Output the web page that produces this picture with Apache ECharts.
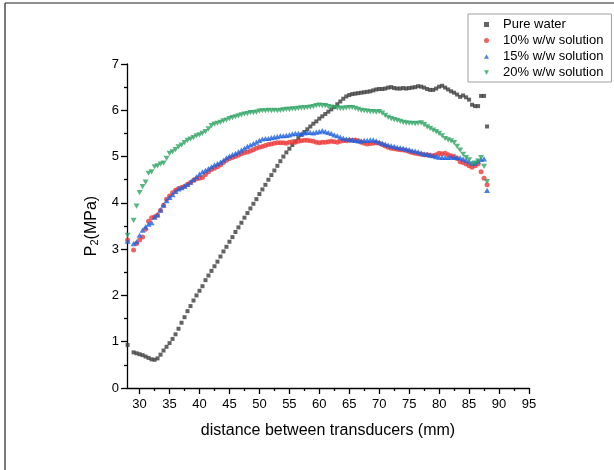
<!DOCTYPE html>
<html>
<head>
<meta charset="utf-8">
<script src="https://cdn.jsdelivr.net/npm/echarts@6/dist/echarts.min.js"></script>
<style>
html,body{margin:0;padding:0;background:#fff;}
#chart{width:614px;height:470px;}
</style>
</head>
<body>
<div id="chart"></div>
<script>
// x positions (mm)
const distance = [28, 29, 29.5, 30, 30.5, 31, 31.5, 32, 32.5, 33, 33.5, 34, 34.5, 35, 35.5, 36, 36.5, 37, 37.5, 38, 38.5, 39, 39.5, 40, 40.5, 41, 41.5, 42, 42.5, 43, 43.5, 44, 44.5, 45, 45.5, 46, 46.5, 47, 47.5, 48, 48.5, 49, 49.5, 50, 50.5, 51, 51.5, 52, 52.5, 53, 53.5, 54, 54.5, 55, 55.5, 56, 56.5, 57, 57.5, 58, 58.5, 59, 59.5, 60, 60.5, 61, 61.5, 62, 62.5, 63, 63.5, 64, 64.5, 65, 65.5, 66, 66.5, 67, 67.5, 68, 68.5, 69, 69.5, 70, 70.5, 71, 71.5, 72, 72.5, 73, 73.5, 74, 74.5, 75, 75.5, 76, 76.5, 77, 77.5, 78, 78.5, 79, 79.5, 80, 80.5, 81, 81.5, 82, 82.5, 83, 83.5, 84, 84.5, 85, 85.5, 86, 86.5, 87, 87.5, 88];

const pureWater = [0.93,
0.77, 0.75, 0.73, 0.71, 0.68, 0.65, 0.62, 0.61, 0.64, 0.72,
0.81, 0.89, 0.97, 1.06, 1.16, 1.28, 1.41, 1.53, 1.66, 1.77,
1.89, 2.0, 2.1, 2.2, 2.33, 2.43, 2.53, 2.63, 2.73, 2.84,
2.95, 3.05, 3.16, 3.26, 3.37, 3.47, 3.57, 3.68, 3.78, 3.88,
3.98, 4.08, 4.19, 4.29, 4.39, 4.5, 4.6, 4.7, 4.8, 4.9,
5.0, 5.09, 5.17, 5.25, 5.33, 5.4, 5.47, 5.53, 5.59, 5.65,
5.71, 5.76, 5.82, 5.87, 5.92, 5.97, 6.02, 6.07, 6.13, 6.19,
6.25, 6.3, 6.33, 6.35, 6.36, 6.37, 6.38, 6.39, 6.4, 6.41,
6.43, 6.45, 6.46, 6.46, 6.47, 6.49, 6.5, 6.48, 6.47, 6.47,
6.48, 6.47, 6.48, 6.49, 6.5, 6.52, 6.51, 6.49, 6.46, 6.44,
6.44, 6.47, 6.51, 6.53, 6.49, 6.45, 6.41, 6.38, 6.34, 6.29,
6.32, 6.28, 6.23, 6.12, 6.09, 6.09, 6.31, 6.31, 5.65];

const sol10 = [3.2,
2.98, 3.12, 3.2, 3.26, 3.43, 3.6, 3.68, 3.7, 3.74, 3.84,
3.95, 4.08, 4.15, 4.22, 4.27, 4.31, 4.33, 4.36, 4.4, 4.44,
4.49, 4.52, 4.53, 4.55, 4.61, 4.67, 4.72, 4.75, 4.78, 4.82,
4.87, 4.92, 4.96, 4.98, 5.0, 5.03, 5.06, 5.08, 5.1, 5.12,
5.15, 5.18, 5.2, 5.22, 5.24, 5.26, 5.27, 5.29, 5.3, 5.3,
5.3, 5.29, 5.31, 5.32, 5.31, 5.33, 5.34, 5.35, 5.35, 5.34,
5.33, 5.31, 5.3, 5.31, 5.31, 5.32, 5.33, 5.32, 5.31, 5.33,
5.34, 5.34, 5.35, 5.35, 5.36, 5.34, 5.31, 5.29, 5.27, 5.28,
5.29, 5.3, 5.29, 5.26, 5.23, 5.2, 5.18, 5.17, 5.16, 5.15,
5.14, 5.13, 5.11, 5.09, 5.07, 5.06, 5.05, 5.04, 5.04, 5.03,
5.02, 5.04, 5.07, 5.06, 5.07, 5.04, 5.02, 5.0, 4.96, 4.89,
4.87, 4.84, 4.8, 4.77, 4.8, 4.84, 4.67, 4.53, 4.39];

const sol15 = [3.17,
3.12, 3.16, 3.3, 3.41, 3.48, 3.54, 3.57, 3.69, 3.74, 3.84,
3.95, 4.05, 4.12, 4.18, 4.25, 4.3, 4.33, 4.36, 4.4, 4.45,
4.5, 4.56, 4.62, 4.67, 4.7, 4.74, 4.78, 4.82, 4.85, 4.88,
4.92, 4.97, 5.01, 5.04, 5.07, 5.1, 5.14, 5.18, 5.22, 5.25,
5.28, 5.31, 5.35, 5.38, 5.39, 5.39, 5.41, 5.42, 5.43, 5.45,
5.45, 5.46, 5.47, 5.49, 5.5, 5.5, 5.49, 5.51, 5.52, 5.52,
5.51, 5.53, 5.54, 5.56, 5.54, 5.52, 5.5, 5.47, 5.45, 5.42,
5.4, 5.38, 5.37, 5.36, 5.35, 5.34, 5.34, 5.35, 5.35, 5.36,
5.36, 5.34, 5.31, 5.29, 5.27, 5.25, 5.23, 5.22, 5.2, 5.19,
5.18, 5.16, 5.15, 5.13, 5.12, 5.1, 5.08, 5.06, 5.05, 5.03,
5.02, 5.0, 4.99, 4.98, 4.98, 4.98, 4.99, 4.98, 4.98, 4.97,
4.95, 4.92, 4.89, 4.86, 4.86, 4.9, 4.94, 4.95, 4.27];

const sol20 = [3.3,
3.62, 3.93, 4.22, 4.35, 4.45, 4.64, 4.67, 4.78, 4.8, 4.84,
4.86, 4.96, 5.07, 5.1, 5.15, 5.21, 5.25, 5.3, 5.35, 5.38,
5.41, 5.45, 5.47, 5.5, 5.54, 5.6, 5.67, 5.7, 5.72, 5.74,
5.77, 5.79, 5.82, 5.84, 5.86, 5.88, 5.9, 5.92, 5.93, 5.95,
5.95, 5.96, 5.98, 5.99, 5.99, 6.0, 5.99, 6.0, 5.99, 6.0,
6.01, 6.02, 6.02, 6.03, 6.03, 6.04, 6.05, 6.05, 6.06, 6.07,
6.08, 6.1, 6.11, 6.1, 6.1, 6.08, 6.07, 6.06, 6.05, 6.04,
6.04, 6.05, 6.06, 6.06, 6.04, 6.02, 6.0, 5.99, 5.98, 5.97,
5.97, 5.96, 5.97, 5.94, 5.89, 5.85, 5.82, 5.8, 5.78, 5.76,
5.74, 5.73, 5.72, 5.72, 5.71, 5.72, 5.73, 5.69, 5.64, 5.61,
5.57, 5.54, 5.5, 5.45, 5.39, 5.36, 5.34, 5.3, 5.22, 5.14,
5.05, 4.98, 4.93, 4.84, 4.86, 4.9, 4.98, 4.79, 4.46];

const seriesNames = ['Pure water', '10% w/w solution', '15% w/w solution', '20% w/w solution'];
const xMajorTicks = [30, 35, 40, 45, 50, 55, 60, 65, 70, 75, 80, 85, 90, 95];
const xMinorTicks = [32.5, 37.5, 42.5, 47.5, 52.5, 57.5, 62.5, 67.5, 72.5, 77.5, 82.5, 87.5, 92.5];

function pairs(ys) { return distance.map((x, i) => [x, ys[i]]); }

const FONT = '"Liberation Sans", Arial, sans-serif';
const DOWN_TRI = 'path://M0,0L10,0L5,8.66Z';
const UP_TRI = 'path://M5,0L10,8.66L0,8.66Z';
const chart = echarts.init(document.getElementById('chart'), null, {renderer: 'canvas'});

const xCommon = {
  type: 'value', min: 27.9, max: 95,
  splitLine: {show: false}
};

chart.setOption({
  animation: false,
  backgroundColor: '#fff',
  textStyle: {fontFamily: FONT},
  grid: {left: 127, right: 85, top: 64, bottom: 82, containLabel: false},
  legend: {
    orient: 'vertical', left: 468, top: 14,
    padding: [4, 8, 3, 16], itemGap: 3,
    itemWidth: 5, itemHeight: 5,
    borderColor: '#a0a0a0', borderWidth: 1,
    textStyle: {fontFamily: FONT, fontSize: 13, color: '#000', padding: [0, 0, 0, 9]},
    data: seriesNames
  },
  xAxis: [
    Object.assign({}, xCommon, {
      name: 'distance between transducers (mm)',
      nameLocation: 'middle', nameGap: 35,
      nameTextStyle: {fontFamily: FONT, fontSize: 16, color: '#000'},
      axisLine: {show: true, lineStyle: {color: '#000', width: 1.3}},
      axisTick: {show: true, length: 6, lineStyle: {color: '#000', width: 1.3}, customValues: xMajorTicks},
      axisLabel: {fontFamily: FONT, fontSize: 13, color: '#000', margin: 10, customValues: xMajorTicks}
    }),
    Object.assign({}, xCommon, {
      position: 'bottom',
      axisLine: {show: false},
      axisTick: {show: true, length: 3, lineStyle: {color: '#000', width: 1.3}, customValues: xMinorTicks},
      axisLabel: {show: false}
    })
  ],
  yAxis: {
    type: 'value', min: 0, max: 7, interval: 1,
    name: '{p|P}{s|2}{p|(MPa)}',
    nameLocation: 'middle', nameGap: 27, nameRotate: 90,
    nameTextStyle: {
      fontFamily: FONT, color: '#000',
      rich: {
        p: {fontFamily: FONT, fontSize: 16, color: '#000'},
        s: {fontFamily: FONT, fontSize: 11, color: '#000', verticalAlign: 'bottom'}
      }
    },
    axisLine: {show: true, lineStyle: {color: '#000', width: 1.3}},
    axisTick: {show: true, length: 6, lineStyle: {color: '#000', width: 1.3}},
    minorTick: {show: true, splitNumber: 2, length: 3, lineStyle: {color: '#000', width: 1.3}},
    axisLabel: {fontFamily: FONT, fontSize: 13, color: '#000', margin: 8},
    splitLine: {show: false}
  },
  graphic: [
    {type: 'line', shape: {x1: 5, y1: 3, x2: 614, y2: 3}, style: {stroke: '#222', lineWidth: 1.2}},
    {type: 'line', shape: {x1: 5, y1: 3, x2: 5, y2: 470}, style: {stroke: '#222', lineWidth: 1.2}}
  ],
  series: [
    {name: seriesNames[0], type: 'scatter', symbol: 'rect', symbolSize: 4,
     itemStyle: {color: '#3c3c3c'}, data: pairs(pureWater)},
    {name: seriesNames[1], type: 'scatter', symbol: 'circle', symbolSize: 5,
     itemStyle: {color: '#ee3a3a'}, data: pairs(sol10)},
    {name: seriesNames[2], type: 'scatter', symbol: UP_TRI, symbolSize: [6, 5.2],
     itemStyle: {color: '#1f62e0'}, data: pairs(sol15)},
    {name: seriesNames[3], type: 'scatter', symbol: DOWN_TRI, symbolSize: [6, 5.2],
     itemStyle: {color: '#2ea463'}, data: pairs(sol20)}
  ]
});
</script>
</body>
</html>
